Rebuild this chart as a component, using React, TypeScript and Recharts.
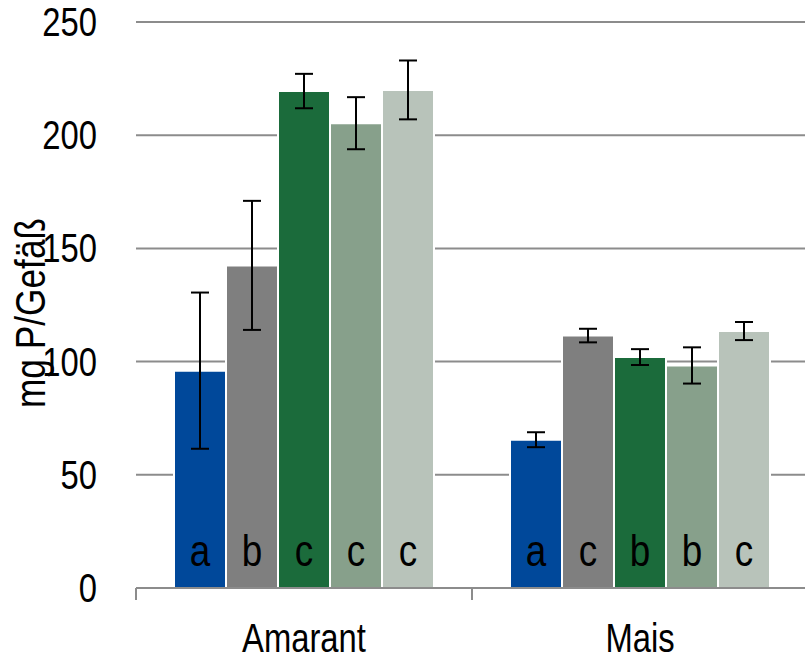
import React from 'react'
import {
  BarChart,
  Bar,
  XAxis,
  YAxis,
  CartesianGrid,
  ErrorBar,
  LabelList,
} from 'recharts'

const categories = ['Amarant', 'Mais']
const yTicks = [0, 50, 100, 150, 200, 250]

// five treatments per crop, mean and error
const s1 = [96, 65.5]
const s1Err = [34.5, 3.3]
const s2 = [142.5, 111.5]
const s2Err = [28.5, 3]
const s3 = [219.5, 102]
const s3Err = [7.6, 3.5]
const s4 = [205.3, 98.3]
const s4Err = [11.5, 8]
const s5 = [220, 113.5]
const s5Err = [13, 4]

const s1Letters = ['a', 'a']
const s2Letters = ['b', 'c']
const s3Letters = ['c', 'b']
const s4Letters = ['c', 'b']
const s5Letters = ['c', 'c']

const colors = ['#00489A', '#7F7F7F', '#1B6B3B', '#87A08B', '#B8C3BA']

// no Arial Narrow installed, so squeeze Liberation Sans horizontally
const FONT = "'Liberation Sans', Arial, sans-serif"
const SQUEEZE = 0.82

const W = 810
const H = 659
const MARGIN = { top: 22, right: 2, left: 0, bottom: 0 }
const Y_WIDTH = 136
const X_HEIGHT = 71
const HALF_BAND = (W - MARGIN.left - MARGIN.right - Y_WIDTH) / categories.length / 2

const data = categories.map((name, i) => ({
  name,
  s1: s1[i],
  s1Err: s1Err[i],
  s1L: s1Letters[i],
  s2: s2[i],
  s2Err: s2Err[i],
  s2L: s2Letters[i],
  s3: s3[i],
  s3Err: s3Err[i],
  s3L: s3Letters[i],
  s4: s4[i],
  s4Err: s4Err[i],
  s4L: s4Letters[i],
  s5: s5[i],
  s5Err: s5Err[i],
  s5L: s5Letters[i],
}))

function Narrow({ x, y, size, anchor = 'middle', rotate = 0, children }: any) {
  return (
    <g transform={`translate(${x},${y}) rotate(${rotate}) scale(${SQUEEZE},1)`}>
      <text x={0} y={0} textAnchor={anchor} fontFamily={FONT} fontSize={size} fill="#000">
        {children}
      </text>
    </g>
  )
}

function XTick(props: any) {
  const { x, y, payload } = props
  return (
    <g>
      <line x1={x - HALF_BAND} y1={y} x2={x - HALF_BAND} y2={y + 12} stroke="#8c8c8c" strokeWidth={2} />
      <Narrow x={x} y={y + 64} size={40}>{payload.value}</Narrow>
    </g>
  )
}

function YTick(props: any) {
  const { y, payload } = props
  return (
    <Narrow x={97} y={y + 14} size={40} anchor="end">{payload.value}</Narrow>
  )
}

function YLabel(props: any) {
  const { viewBox } = props
  const cy = viewBox.y + viewBox.height / 2 + 8
  return <Narrow x={45} y={cy} size={43} rotate={-90}>mg P/Gefäß</Narrow>
}

function Letter(props: any) {
  const { x, y, width, height, value } = props
  return <Narrow x={x + width / 2} y={y + height - 22} size={45}>{value}</Narrow>
}

const keys = ['s1', 's2', 's3', 's4', 's5']

export default function App() {
  return (
    <div style={{ position: 'absolute', left: 0, top: 0, width: 805, height: H, overflow: 'hidden', background: '#fff' }}>
      <BarChart width={W} height={H} data={data} margin={MARGIN} barCategoryGap={38} barGap={0}>
        <CartesianGrid vertical={false} stroke="#8c8c8c" strokeWidth={2} />
        <XAxis
          dataKey="name"
          height={X_HEIGHT}
          stroke="#8c8c8c"
          strokeWidth={2}
          tickLine={false}
          tickSize={0}
          tickMargin={0}
          tick={<XTick />}
          interval={0}
        />
        <YAxis
          width={Y_WIDTH}
          domain={[0, 250]}
          ticks={yTicks}
          axisLine={false}
          tickLine={false}
          tick={<YTick />}
          label={<YLabel />}
        />
        {keys.map((k, i) => (
          <Bar key={k} dataKey={k} fill={colors[i]} stroke="#fff" strokeWidth={2} isAnimationActive={false}>
            <ErrorBar dataKey={`${k}Err`} width={9} stroke="#000" strokeWidth={2} />
            <LabelList dataKey={`${k}L`} content={<Letter />} />
          </Bar>
        ))}
      </BarChart>
    </div>
  )
}
